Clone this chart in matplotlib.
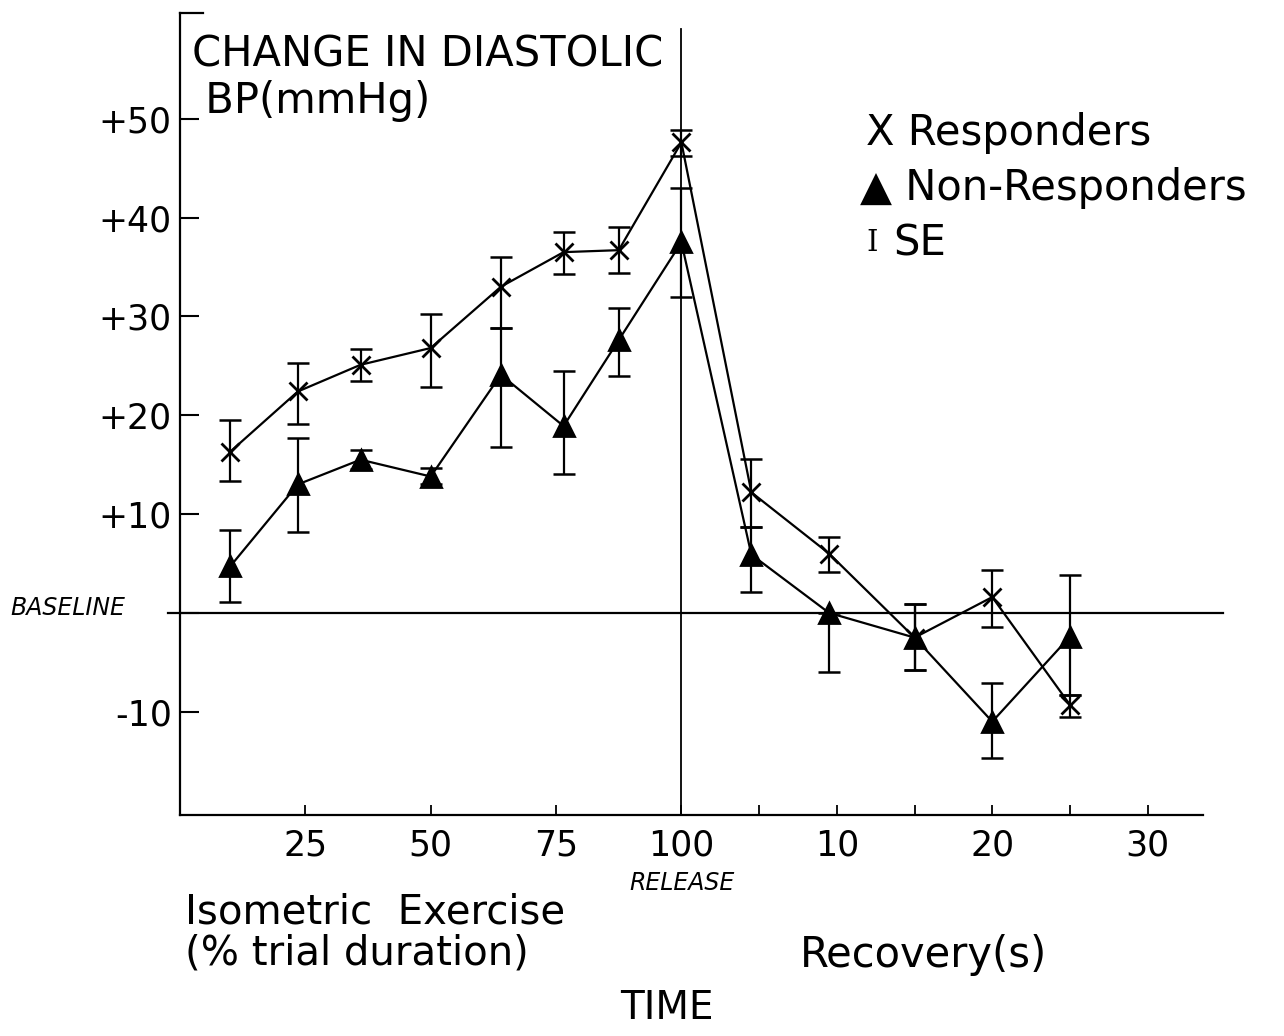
import matplotlib
matplotlib.use("Agg")
import matplotlib.pyplot as plt
import numpy as np

# x positions: exercise as % of trial duration, recovery in seconds after release
exercise_pct = [10, 23.5, 36, 50, 64, 76.5, 87.5, 100]
recovery_s = [4.5, 9.5, 15, 20, 25]
SEC = 3.1  # axis units per recovery second

# change in diastolic BP (mmHg)
resp = [16.3, 22.4, 25.1, 26.8, 33.0, 36.5, 36.7, 47.6, 12.2, 6.0, -2.5, 1.6, -9.3]
resp_hi = [19.5, 25.3, 26.7, 30.2, 36.0, 38.5, 39.0, 48.9, 15.6, 7.7, 0.9, 4.3, -8.3]
resp_lo = [13.3, 19.1, 23.5, 22.9, 28.8, 34.3, 34.4, 46.2, 8.7, 4.1, -5.8, -1.4, -10.5]

nonresp = [4.7, 13.0, 15.5, 13.8, 24.1, 18.9, 27.6, 37.5, 5.9, 0.0, -2.5, -11.0, -2.4]
nonresp_hi = [8.4, 17.7, 16.5, 14.7, 28.8, 24.5, 30.8, 43.0, 8.7, 0.0, 0.9, -7.1, 3.8]
nonresp_lo = [1.1, 8.2, 14.6, 13.0, 16.8, 14.1, 24.0, 32.0, 2.1, -6.0, -5.8, -14.7, -8.3]

yticks = [-10, 10, 20, 30, 40, 50]
ytick_labels = ["-10", "+10", "+20", "+30", "+40", "+50"]
xtick_vals = [25, 50, 75, 100]
rec_ticks = [5, 10, 15, 20, 25, 30]
rec_labels = ["", "10", "", "20", "", "30"]

x = np.array(exercise_pct + [100 + s * SEC for s in recovery_s])

plt.rcParams['font.family'] = ['DejaVu Sans']
fig = plt.figure(figsize=(12.84, 10.36), dpi=100)
ax = fig.add_axes([0.1402, 0.2133, 0.7966, 0.7742])

ax.set_xlim(0, 204)
ax.set_ylim(-20.45, 60.7)

for y, hi, lo, mk, ms in [(resp, resp_hi, resp_lo, 'x', 13),
                          (nonresp, nonresp_hi, nonresp_lo, '^', 15)]:
    y = np.array(y)
    err = [y - np.array(lo), np.array(hi) - y]
    ax.errorbar(x, y, yerr=err, fmt='none', ecolor='k', elinewidth=1.6,
                capsize=8, capthick=1.8, zorder=2)
    ax.plot(x, y, '-', color='k', lw=1.6, zorder=3)
    ax.plot(x, y, mk, color='k', ms=ms, mew=2.0, zorder=4)

# baseline and release marker
ax.axhline(0, xmin=-0.012, xmax=1.02, color='k', lw=1.6, clip_on=False)
ax.axvline(100, ymax=0.98, color='k', lw=1.3)
ax.plot([0, 0.022], [1, 1], color='k', lw=1.6, transform=ax.transAxes, clip_on=False)

for side in ['top', 'right']:
    ax.spines[side].set_visible(False)
for side in ['left', 'bottom']:
    ax.spines[side].set_linewidth(1.6)

ax.set_yticks(yticks + [0])
ax.set_yticklabels(ytick_labels + [""])
ax.tick_params(axis='y', direction='in', length=14, width=1.5, pad=6, labelsize=25)

xt = xtick_vals + [100 + s * SEC for s in rec_ticks]
ax.set_xticks(xt)
ax.set_xticklabels([str(v) for v in xtick_vals] + rec_labels)
ax.tick_params(axis='x', direction='in', length=7, width=1.3, pad=10, labelsize=25)

# axis annotations
ax.text(0.012, 0.975, "CHANGE IN DIASTOLIC\n BP(mmHg)", transform=ax.transAxes,
        ha='left', va='top', fontsize=30, linespacing=1.15)
fig.text(10 / 1284, 1 - 608 / 1036, "BASELINE", fontsize=17, style='italic',
         ha='left', va='center')
fig.text(682 / 1284, 1 - 883 / 1036, "RELEASE", fontsize=17, style='italic',
         ha='center', va='center')
fig.text(185 / 1284, 1 - 933 / 1036, "Isometric  Exercise\n(% trial duration)",
         fontsize=29, ha='left', va='center', linespacing=1.0)
fig.text(800 / 1284, 1 - 955 / 1036, "Recovery(s)", fontsize=30, ha='left', va='center')
fig.text(667 / 1284, 1 - 1008 / 1036, "TIME", fontsize=28, ha='center', va='center')

# key
fig.text(866 / 1284, 1 - 133 / 1036, "X Responders", fontsize=30, ha='left', va='center')
fig.text(860 / 1284, 1 - 188 / 1036, "\u25B2 Non-Responders", fontsize=30, ha='left', va='center')
fig.text(866 / 1284, 1 - 243 / 1036, "I", family='DejaVu Serif', fontsize=21,
         ha='left', va='center')
fig.text(893 / 1284, 1 - 243 / 1036, "SE", fontsize=30, ha='left', va='center')

fig.savefig("out.png", dpi=100)
